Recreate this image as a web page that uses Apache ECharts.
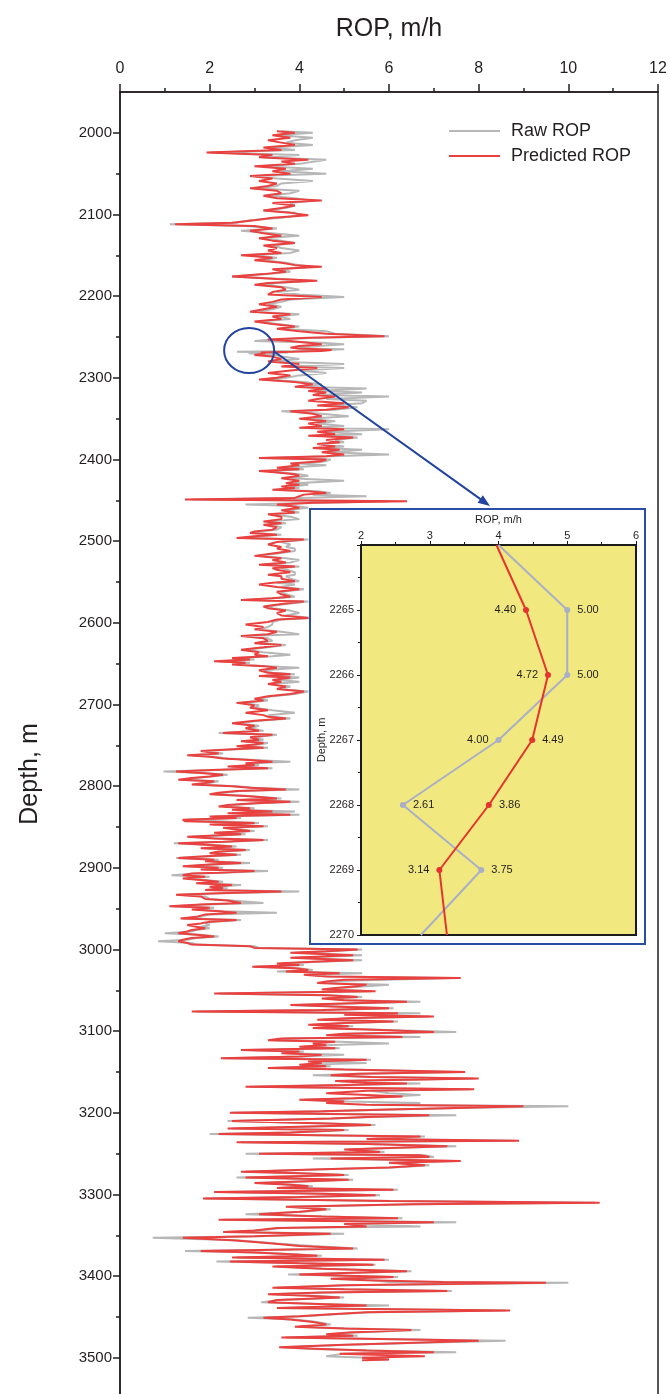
<!DOCTYPE html>
<html><head><meta charset="utf-8">
<script src="https://cdn.jsdelivr.net/npm/echarts@6/dist/echarts.min.js"></script>
<style>
html,body{margin:0;padding:0;background:#fff;}
#main{position:absolute;left:0;top:0;width:670px;height:1394px;}
#inset{position:absolute;left:309px;top:508px;width:333px;height:433px;border:2px solid #2a4ea6;background:#fff;}
</style></head><body>
<div id="main"></div><div id="inset"></div>
<script>
// ---------- DATA ----------
const depthM = [
1998,2000,2003,2006,2009,2012,2015,2018,2021,2024,
2027,2030,2033,2035,2038,2041,2044,2047,2050,2053,
2056,2059,2062,2065,2068,2071,2074,2077,2080,2083,
2086,2089,2092,2095,2098,2101,2104,2107,2110,2112,
2114,2117,2120,2123,2126,2129,2132,2135,2138,2141,
2144,2147,2150,2153,2156,2159,2162,2164,2167,2170,
2173,2176,2179,2181,2184,2186,2189,2192,2195,2198,
2201,2204,2207,2210,2213,2216,2219,2222,2225,2228,
2231,2234,2237,2240,2243,2246,2249,2251,2253,2255,
2257,2259,2261,2263,2264,2265,2266,2267,2268,2269,
2270,2272,2274,2277,2280,2283,2286,2288,2291,2294,
2297,2300,2302,2305,2308,2311,2313,2316,2318,2321,
2323,2326,2328,2331,2334,2336,2339,2341,2344,2347,
2350,2353,2356,2359,2361,2363,2366,2369,2371,2373,
2376,2379,2381,2384,2386,2388,2391,2394,2396,2398,
2400,2402,2405,2407,2410,2412,2414,2416,2418,2420,
2423,2426,2429,2431,2433,2435,2437,2439,2441,2443,
2445,2447,2449,2451,2453,2455,2457,2459,2462,2465,
2467,2470,2473,2476,2478,2480,2483,2486,2488,2490,
2492,2494,2496,2498,2501,2504,2507,2509,2512,2515,
2518,2521,2523,2526,2529,2531,2533,2535,2538,2541,
2543,2546,2549,2551,2553,2556,2559,2562,2565,2568,
2570,2572,2574,2577,2580,2582,2585,2588,2591,2594,
2596,2599,2602,2605,2608,2611,2614,2616,2619,2622,
2625,2627,2630,2633,2636,2639,2641,2643,2645,2647,
2649,2651,2653,2655,2658,2661,2663,2665,2667,2670,
2672,2675,2678,2681,2684,2687,2690,2693,2695,2698,
2701,2704,2707,2710,2713,2715,2717,2720,2723,2726,
2729,2732,2735,2737,2740,2743,2745,2747,2749,2751,
2753,2755,2757,2760,2762,2764,2766,2768,2770,2772,
2774,2776,2778,2780,2782,2784,2786,2788,2790,2792,
2794,2796,2798,2800,2802,2804,2806,2808,2810,2812,
2815,2817,2819,2821,2823,2825,2827,2829,2831,2833,
2835,2837,2839,2841,2843,2845,2847,2849,2851,2853,
2855,2857,2859,2862,2864,2866,2868,2870,2872,2874,
2876,2878,2880,2882,2884,2886,2888,2890,2892,2894,
2896,2898,2900,2902,2904,2906,2907,2909,2911,2913,
2915,2917,2919,2921,2923,2925,2927,2929,2931,2933,
2935,2938,2940,2943,2945,2947,2949,2951,2953,2955,
2957,2960,2962,2964,2966,2968,2970,2972,2974,2976,
2978,2980,2982,2984,2986,2988,2990,2992,2994,2996,
2998,3000,3002,3004,3007,3010,3013,3015,3017,3019,
3021,3023,3025,3027,3029,3031,3033,3035,3037,3039,
3041,3043,3045,3047,3049,3051,3054,3056,3058,3060,
3062,3064,3066,3068,3070,3072,3074,3076,3078,3080,
3082,3084,3086,3088,3090,3092,3094,3096,3098,3101,
3103,3105,3107,3109,3111,3113,3115,3117,3119,3121,
3123,3125,3127,3129,3131,3133,3135,3137,3139,3141,
3143,3145,3147,3150,3152,3154,3156,3158,3161,3163,
3164,3166,3168,3171,3173,3176,3178,3180,3182,3184,
3186,3188,3190,3192,3194,3196,3198,3200,3203,3205,
3207,3210,3213,3215,3217,3219,3221,3224,3226,3229,
3232,3234,3236,3238,3241,3243,3245,3248,3250,3252,
3254,3256,3259,3261,3264,3267,3269,3272,3274,3276,
3279,3282,3284,3286,3288,3290,3292,3294,3297,3299,
3301,3303,3305,3308,3310,3312,3315,3318,3321,3324,
3327,3329,3331,3334,3336,3339,3341,3344,3346,3348,
3351,3353,3356,3358,3360,3363,3366,3369,3371,3373,
3375,3377,3380,3382,3384,3386,3388,3391,3394,3396,
3398,3401,3403,3405,3407,3408,3411,3414,3416,3418,
3420,3422,3424,3426,3429,3432,3434,3436,3439,3442,
3444,3446,3449,3451,3453,3456,3459,3462,3464,3466,
3469,3471,3473,3475,3478,3479,3482,3484,3487,3489,
3491,3493,3495,3498,3500,3502,3503
];
const predictedROP = [
3.5,3.9,3.4,3.8,3.3,3.6,3.9,3.2,3.6,1.93,
3.4,3.1,4.2,3.6,3.9,3.0,3.7,3.4,3.8,2.9,
3.4,3.1,3.5,3.3,2.9,3.5,3.6,3.2,3.5,4.5,
3.4,3.9,3.6,3.2,3.8,4.2,3.4,3.0,2.5,1.23,
3.0,3.4,2.9,3.2,3.6,3.1,3.4,3.9,3.2,3.5,
3.3,3.6,2.7,3.4,3.0,3.6,3.9,4.5,3.4,3.7,
3.2,2.5,3.5,4.4,3.3,3.0,3.6,3.7,3.4,3.3,
4.5,3.6,3.4,3.1,3.5,3.2,2.9,3.8,3.4,3.6,
3.0,3.4,3.9,3.5,4.0,4.6,5.9,4.2,3.3,3.8,
4.2,4.5,4.0,3.8,3.97,4.40,4.72,4.49,3.86,3.14,
3.25,3.0,3.4,3.6,3.3,4.0,3.6,4.4,3.8,3.3,
3.8,3.5,3.1,3.9,4.3,3.9,4.6,4.2,4.6,4.3,
4.8,4.4,4.2,5.0,4.4,5.1,4.6,3.8,4.3,4.5,
4.0,4.6,4.2,4.5,4.0,5.0,4.4,4.8,4.2,5.2,
4.6,4.9,4.4,4.8,4.3,4.9,4.5,5.0,4.6,3.1,
4.6,4.5,3.8,4.0,3.5,4.0,3.1,3.5,3.9,4.0,
3.6,4.0,3.7,4.0,3.6,3.9,3.4,4.2,4.6,4.1,
4.0,3.9,1.45,6.4,4.3,3.5,3.8,4.0,3.6,3.9,
3.3,3.6,3.6,3.2,3.6,3.2,3.5,3.4,3.0,2.9,
3.5,3.0,2.6,4.1,3.5,3.3,3.6,3.5,3.8,3.4,
3.0,3.6,3.4,3.7,3.1,3.9,3.4,3.5,3.8,3.3,
3.6,3.6,3.9,3.4,3.1,3.5,4.0,3.5,3.6,3.8,
3.4,2.7,4.1,3.6,3.2,3.3,3.7,3.5,3.6,4.2,
3.5,3.3,2.8,3.2,3.0,3.5,3.3,2.7,3.2,3.3,
3.0,3.6,3.2,2.7,3.1,3.0,3.3,2.5,2.9,2.1,
2.8,2.5,3.2,3.5,3.1,3.3,3.8,3.1,3.8,3.4,
3.6,3.3,3.7,3.5,4.1,3.8,3.3,3.0,3.2,2.6,
3.0,2.9,3.3,2.8,3.2,3.3,3.7,3.0,2.5,3.0,
2.8,3.1,2.3,3.4,2.9,3.1,2.7,3.2,3.0,2.6,
3.2,2.4,1.8,2.2,1.5,2.0,2.3,2.9,3.4,2.8,
3.0,2.4,3.3,2.2,1.25,1.8,2.3,2.0,1.6,1.3,
2.1,1.9,1.6,2.5,2.9,3.7,2.6,2.2,2.0,2.8,
3.5,2.6,3.8,3.0,2.4,2.2,2.9,2.5,3.4,2.4,
3.8,2.0,2.6,1.4,1.45,3.0,2.0,3.2,2.3,2.6,
2.9,2.1,2.7,1.5,2.1,3.2,2.3,1.3,2.0,2.5,
1.8,2.8,2.2,2.0,2.6,1.8,1.3,2.1,1.9,2.7,
2.0,1.4,2.2,1.8,3.0,2.2,1.6,1.4,1.9,1.4,
1.8,2.2,1.7,2.5,2.0,2.3,1.9,3.6,2.2,1.25,
1.8,1.9,2.4,2.7,1.8,1.1,2.0,1.6,2.2,2.6,
1.9,1.7,1.35,2.6,2.0,1.8,1.5,1.7,1.9,1.6,
1.5,1.3,1.7,2.1,1.6,1.4,1.3,1.5,1.6,2.9,
3.0,5.3,4.6,3.8,5.2,3.8,5.2,4.3,3.5,4.0,
2.95,3.9,4.2,3.7,4.9,4.1,4.6,7.6,5.0,4.6,
4.4,5.5,5.3,4.8,4.5,5.7,2.1,4.6,5.3,4.5,
5.0,6.4,5.0,3.8,4.9,6.0,4.5,1.6,6.2,5.0,
7.0,5.2,4.4,6.1,5.0,4.2,5.1,4.3,5.5,7.0,
5.0,4.6,6.3,3.6,3.3,4.8,4.3,4.6,4.0,4.8,
2.7,4.0,3.6,4.5,4.0,2.25,5.5,4.2,4.5,4.0,
4.6,3.3,5.0,7.7,5.3,4.7,5.6,8.0,4.8,5.5,
6.4,5.0,2.8,7.9,5.5,4.6,4.6,6.3,5.2,4.0,
5.0,4.6,5.5,9.0,7.5,6.0,4.5,2.45,6.9,5.5,
4.7,2.5,4.6,5.6,4.0,2.4,5.0,3.8,2.2,6.7,
5.5,8.9,2.6,5.5,7.3,6.0,5.0,5.8,3.1,6.7,
6.9,4.7,7.6,6.0,6.8,6.0,4.5,2.7,4.0,5.0,
2.8,5.1,4.0,3.0,3.8,4.2,3.5,6.1,2.1,4.5,
5.7,4.0,1.85,6.0,10.7,6.5,3.7,4.6,4.0,3.1,
4.5,6.2,2.2,7.0,5.0,5.5,3.5,3.0,2.3,4.7,
3.0,1.4,2.5,3.0,3.4,4.0,5.2,1.8,3.0,3.8,
4.4,2.5,5.9,2.45,4.0,5.65,3.4,4.5,6.4,5.0,
4.0,6.1,4.7,5.5,7.2,9.5,5.0,3.4,5.0,7.3,
4.5,3.3,4.2,4.9,3.5,3.3,4.4,5.5,3.5,8.7,
5.5,4.9,4.0,3.2,3.8,4.3,4.6,3.9,5.0,6.5,
5.1,4.6,5.2,3.6,7.2,8.0,6.2,5.0,3.55,4.5,
5.5,7.0,4.9,6.8,5.4,6.0,5.4
];
const rawROP = [
3.6,4.3,3.5,4.3,3.9,3.7,4.3,3.4,3.9,2.0,
4.0,3.2,4.6,4.6,4.0,3.2,4.3,3.6,4.6,3.0,
3.5,4.3,3.6,3.5,3.0,4.0,3.8,3.3,3.9,4.3,
3.8,3.9,3.7,3.2,3.9,4.0,3.6,2.9,2.6,1.11,
2.8,3.5,2.7,3.4,4.0,3.2,3.6,3.9,3.4,3.6,
4.0,3.8,2.9,3.5,3.2,3.7,4.0,4.3,3.6,3.8,
3.3,2.5,3.6,4.3,3.5,3.2,3.7,4.0,3.5,4.0,
5.0,3.8,3.6,3.3,3.6,3.4,3.0,4.0,3.5,3.8,
3.1,3.5,4.0,3.6,4.6,4.8,6.0,4.4,3.4,3.0,
4.5,5.0,4.4,3.9,4.0,5.00,5.00,4.00,2.61,3.75,
2.87,3.5,3.6,4.0,3.4,5.0,3.8,5.0,4.0,4.6,
4.0,3.7,3.2,4.1,4.5,4.0,5.5,4.4,5.4,4.5,
6.0,4.6,5.5,5.4,4.6,5.3,4.8,3.6,4.5,5.1,
4.2,4.8,4.4,5.0,4.2,6.0,4.6,5.4,4.4,5.3,
4.8,5.0,4.5,5.0,4.5,5.4,4.7,6.0,4.7,3.2,
4.7,4.6,4.0,4.6,3.7,4.1,3.3,3.6,4.0,4.2,
3.8,5.0,3.9,4.2,3.8,4.0,3.5,4.4,4.7,4.3,
5.5,4.0,1.6,6.0,4.5,2.8,3.9,4.2,3.7,4.0,
3.4,3.8,4.0,3.3,3.7,3.3,3.6,3.5,3.1,3.0,
3.6,3.1,2.7,4.2,3.6,3.8,3.7,3.9,3.9,3.5,
3.1,3.7,4.0,3.8,3.2,4.0,3.6,3.6,3.9,3.9,
3.7,3.8,4.0,3.5,3.9,3.6,4.1,3.6,3.7,3.9,
3.9,2.8,4.2,3.7,3.3,3.4,3.8,4.0,3.7,4.3,
3.6,3.4,3.4,3.3,3.1,3.6,4.0,2.8,3.3,3.4,
3.1,3.7,3.3,2.8,3.2,3.8,3.4,2.6,3.0,2.2,
2.9,2.6,3.3,4.0,3.2,3.4,3.9,3.2,4.0,3.5,
4.0,3.4,3.8,3.6,4.2,3.9,3.4,3.1,3.3,2.7,
3.1,3.0,3.4,3.9,3.3,3.4,3.8,3.1,2.6,3.1,
2.9,3.2,2.2,3.5,3.0,3.2,2.8,3.3,3.1,2.7,
3.3,2.5,1.9,2.3,1.6,2.1,2.4,3.0,3.8,2.9,
3.1,2.5,3.4,2.3,0.97,1.9,2.4,2.4,1.7,1.4,
2.2,2.0,1.7,2.6,3.0,4.0,2.7,2.3,2.1,2.9,
3.6,2.7,4.0,3.1,2.5,2.3,3.0,2.6,3.9,2.5,
4.0,2.1,2.7,1.5,1.5,3.1,2.1,3.3,2.4,2.7,
3.0,2.2,2.8,1.6,2.2,3.3,2.4,1.2,2.1,2.6,
1.9,2.9,2.3,2.1,2.7,1.9,1.25,2.2,2.0,2.9,
2.1,1.5,2.3,1.9,3.3,2.3,1.7,1.15,2.0,1.5,
1.9,2.3,1.8,2.7,2.1,2.4,2.0,4.0,2.3,1.3,
1.9,2.0,2.5,3.2,1.9,1.2,2.1,1.7,2.3,3.5,
2.0,1.8,1.4,2.7,2.1,1.9,2.0,1.8,2.0,1.7,
1.6,1.0,1.8,2.2,1.7,1.5,0.85,1.6,1.7,3.0,
3.1,5.4,4.7,3.9,5.4,3.9,5.4,4.4,3.6,4.1,
3.0,4.0,4.3,3.5,5.4,4.2,4.7,7.4,5.9,4.7,
4.5,6.0,6.0,4.9,4.6,5.6,2.2,4.7,5.4,4.6,
5.1,6.7,5.1,3.9,5.0,6.1,4.6,1.7,6.7,5.1,
6.9,5.3,4.5,6.2,5.1,4.3,5.2,4.4,5.6,7.5,
5.1,4.7,6.7,3.7,3.4,4.9,6.0,4.7,4.1,4.9,
2.8,4.1,3.7,5.0,4.1,2.3,5.6,4.3,5.5,4.1,
4.7,3.4,5.1,7.6,5.4,4.3,5.7,7.9,4.9,5.6,
6.7,5.1,2.9,7.8,5.6,6.0,6.7,6.7,5.3,4.1,
5.1,6.7,5.6,10.0,7.6,6.1,4.6,2.5,7.5,5.6,
4.8,2.4,4.7,5.7,4.1,2.5,5.1,3.9,2.0,6.8,
5.6,8.8,2.7,5.6,7.5,6.1,5.1,5.9,2.8,6.8,
7.0,4.3,7.5,6.1,6.9,6.1,4.6,2.8,4.1,5.1,
2.6,5.2,4.1,3.1,3.9,4.3,3.6,6.2,2.2,4.6,
5.8,4.1,1.9,6.1,10.6,6.6,3.8,4.7,4.1,2.8,
4.6,6.3,2.3,7.5,5.1,6.7,3.6,3.1,2.4,5.0,
3.1,0.73,2.6,3.1,3.5,4.3,5.3,1.45,3.1,3.9,
4.5,2.6,6.0,2.15,4.1,5.7,3.5,4.6,6.5,5.1,
3.75,6.2,4.8,5.6,6.0,10.0,5.1,3.5,5.1,7.4,
4.6,3.4,4.3,5.0,3.6,3.15,4.5,6.0,3.6,8.6,
5.6,5.0,4.1,2.85,3.9,4.4,4.7,4.0,5.1,6.7,
5.2,4.7,5.3,3.7,7.3,8.6,6.3,5.1,3.6,4.3,
5.6,7.5,5.0,4.6,5.5,6.0,5.5
];
const depthTickLabels = [2000,2100,2200,2300,2400,2500,2600,2700,2800,2900,3000,3100,3200,3300,3400,3500];
const depthMinorTicks = [2050,2150,2250,2350,2450,2550,2650,2750,2850,2950,3050,3150,3250,3350,3450];

// Inset (zoomed interval 2264–2270 m)
const insetDepth = [2264,2265,2266,2267,2268,2269,2270];
const insetPredicted = [3.97,4.40,4.72,4.49,3.86,3.14,3.25];
const insetRaw = [4.00,5.00,5.00,4.00,2.61,3.75,2.87];
// annotation circle centre (data coordinates)
const zoomMark = [2.88, 2266.5];

if (depthM.length !== predictedROP.length || depthM.length !== rawROP.length) {
  throw new Error('length mismatch ' + depthM.length + ' ' + predictedROP.length + ' ' + rawROP.length);
}

// ---------- STYLE ----------
const FONT = '"Liberation Sans", Arial, Helvetica, sans-serif';
const INK = '#231f20';
const RED = '#e8413f';
const GRAY = '#b7b7b7';
const BLUE = '#22439e';
const plain = v => String(v);

const main = echarts.init(document.getElementById('main'));
main.setOption({
  animation: false,
  textStyle: { fontFamily: FONT, color: INK },
  grid: { left: 120, top: 92, width: 538, height: 1306.7, show: true, borderColor: INK, borderWidth: 1.5,
          backgroundColor: 'transparent', outerBoundsMode: 'none', containLabel: false },
  legend: {
    orient: 'vertical', left: 449, top: 122, padding: 0, itemGap: 7, icon: 'rect', itemWidth: 51, itemHeight: 2,
    textStyle: { fontFamily: FONT, fontSize: 18, color: INK, padding: [0, 0, 0, 6], lineHeight: 18 },
    data: ['Raw ROP', 'Predicted ROP']
  },
  xAxis: {
    type: 'value', position: 'top', min: 0, max: 12, interval: 2,
    name: 'ROP, m/h', nameLocation: 'middle', nameGap: 50,
    nameTextStyle: { fontFamily: FONT, fontSize: 25, color: INK },
    axisLine: { show: true, lineStyle: { color: INK, width: 1.5 } },
    axisTick: { show: true, length: 8, lineStyle: { color: INK, width: 1.5 } },
    minorTick: { show: true, splitNumber: 2, length: 4, lineStyle: { color: INK, width: 1.5 } },
    axisLabel: { fontFamily: FONT, fontSize: 16, color: INK, margin: 15 },
    splitLine: { show: false }, minorSplitLine: { show: false }
  },
  yAxis: [{
    type: 'value', inverse: true, min: 1950, max: 3550,
    axisLine: { show: true, lineStyle: { color: INK, width: 1.5 } },
    axisTick: { show: true, customValues: depthTickLabels, length: 7, lineStyle: { color: INK, width: 1.5 } },
    axisLabel: { customValues: depthTickLabels, formatter: plain, fontFamily: FONT, fontSize: 15, color: INK, margin: 8 },
    splitLine: { show: false }
  }, {
    type: 'value', inverse: true, min: 1950, max: 3550, position: 'left', offset: 0,
    axisLine: { show: false },
    axisTick: { show: true, customValues: depthMinorTicks, length: 4, lineStyle: { color: INK, width: 1.5 } },
    axisLabel: { show: false },
    splitLine: { show: false }
  }],
  series: [{
    name: 'Raw ROP', type: 'line', xAxisIndex: 0, yAxisIndex: 0,
    data: depthM.map((d, i) => [rawROP[i], d]),
    symbol: 'none', color: GRAY, lineStyle: { color: GRAY, width: 2 }, z: 2
  }, {
    name: 'Predicted ROP', type: 'line', xAxisIndex: 0, yAxisIndex: 0,
    data: depthM.map((d, i) => [predictedROP[i], d]),
    symbol: 'none', color: RED, lineStyle: { color: RED, width: 2 }, z: 3
  }]
});

// annotation: circle around the zoomed interval + arrow to the inset
const c = main.convertToPixel({ gridIndex: 0 }, zoomMark);
const rx = 25, ry = 22.5;
const insetEl = document.getElementById('inset');
const tip = [insetEl.offsetLeft + 181, insetEl.offsetTop - 2];
const start = [c[0] + rx, c[1] + 1];
const dx = tip[0] - start[0], dy = tip[1] - start[1];
const L = Math.hypot(dx, dy), ux = dx / L, uy = dy / L;
const back = [tip[0] - ux * 12, tip[1] - uy * 12];
const w = 4.5;
main.setOption({
  graphic: [
    { type: 'ellipse', shape: { cx: c[0], cy: c[1], rx: rx, ry: ry }, style: { fill: 'none', stroke: BLUE, lineWidth: 2 }, z: 100 },
    { type: 'line', shape: { x1: start[0], y1: start[1], x2: back[0] + ux * 2, y2: back[1] + uy * 2 }, style: { stroke: BLUE, lineWidth: 2 }, z: 100 },
    { type: 'polygon', shape: { points: [tip, [back[0] - uy * w, back[1] + ux * w], [back[0] + uy * w, back[1] - ux * w]] }, style: { fill: BLUE }, z: 100 },
    { type: 'text', x: 30, y: 774, rotation: Math.PI / 2, style: { text: 'Depth, m', font: '25px ' + FONT, fill: INK, align: 'center', verticalAlign: 'middle' }, z: 100 }
  ]
});

// ---------- INSET ----------
const rawSide = ['right', 'right', 'right', 'left', 'right', 'right', 'right'];
const predSide = ['left', 'left', 'left', 'right', 'right', 'left', 'left'];
function insetItems(vals, sides) {
  return insetDepth.map((d, i) => {
    const edge = (i === 0 || i === insetDepth.length - 1);
    return {
      value: [vals[i], d],
      symbolSize: edge ? 0 : 6,
      label: { show: !edge, position: sides[i] }
    };
  });
}
const inset = echarts.init(insetEl);
inset.setOption({
  animation: false,
  textStyle: { fontFamily: FONT, color: INK },
  grid: { left: 50, top: 35, width: 275, height: 390, show: true, backgroundColor: '#f1e97f', borderColor: '#1b1b1b', borderWidth: 2,
          outerBoundsMode: 'none', containLabel: false },
  xAxis: {
    type: 'value', position: 'top', min: 2, max: 6, interval: 1,
    name: 'ROP, m/h', nameLocation: 'middle', nameGap: 20, nameMoveOverlap: false,
    nameTextStyle: { fontFamily: FONT, fontSize: 11, color: INK },
    axisLine: { show: true, lineStyle: { color: '#1b1b1b', width: 2 } },
    axisTick: { show: true, length: 4, lineStyle: { color: '#1b1b1b', width: 1 } },
    minorTick: { show: true, splitNumber: 2, length: 3, lineStyle: { color: '#1b1b1b', width: 1 } },
    axisLabel: { fontFamily: FONT, fontSize: 11, color: INK, margin: 4 },
    splitLine: { show: false }
  },
  yAxis: {
    type: 'value', inverse: true, min: 2264, max: 2270, interval: 1,
    name: 'Depth, m', nameLocation: 'middle', nameGap: 34, nameMoveOverlap: false,
    nameTextStyle: { fontFamily: FONT, fontSize: 11, color: INK },
    axisLine: { show: true, lineStyle: { color: '#1b1b1b', width: 2 } },
    axisTick: { show: true, length: 4, lineStyle: { color: '#1b1b1b', width: 1 } },
    minorTick: { show: true, splitNumber: 2, length: 3, lineStyle: { color: '#1b1b1b', width: 1 } },
    axisLabel: { fontFamily: FONT, fontSize: 11, color: INK, margin: 7, showMinLabel: false, formatter: plain },
    splitLine: { show: false }
  },
  series: [{
    name: 'Raw ROP', type: 'line', data: insetItems(insetRaw, rawSide),
    symbol: 'circle', color: '#a9afc6', lineStyle: { color: '#a9afc6', width: 2 },
    label: { fontFamily: FONT, fontSize: 11, color: INK, distance: 7, formatter: p => p.value[0].toFixed(2) }, z: 2
  }, {
    name: 'Predicted ROP', type: 'line', data: insetItems(insetPredicted, predSide),
    symbol: 'circle', color: '#e5332f', lineStyle: { color: '#e5332f', width: 2 },
    label: { fontFamily: FONT, fontSize: 11, color: INK, distance: 7, formatter: p => p.value[0].toFixed(2) }, z: 3
  }]
});
</script>
</body></html>
